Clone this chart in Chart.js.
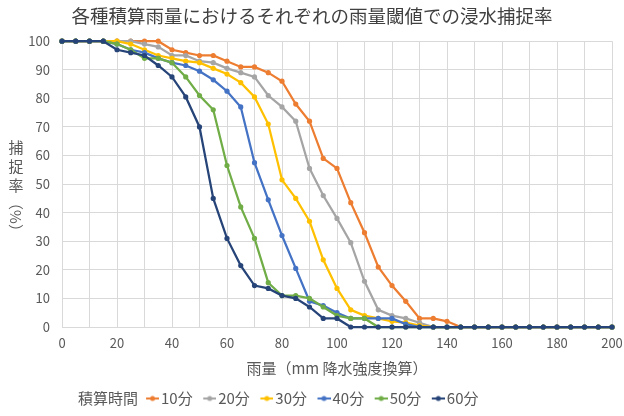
<!DOCTYPE html>
<html>
<head>
<meta charset="utf-8">
<script src="https://cdn.jsdelivr.net/npm/chart.js@4.4.1/dist/chart.umd.min.js"></script>
<style>
  html, body { margin: 0; padding: 0; background: #fff; }
  #wrap { width: 624px; height: 416px; }
</style>
</head>
<body>
<div id="wrap"><canvas id="chart"></canvas></div>
<script>
// ===== データ =====
const rainfall = [0, 5, 10, 15, 20, 25, 30, 35, 40, 45,
                  50, 55, 60, 65, 70, 75, 80, 85, 90, 95,
                  100, 105, 110, 115, 120, 125, 130, 135, 140, 145,
                  150, 155, 160, 165, 170, 175, 180, 185, 190, 195, 200];
const xTicks = [0, 20, 40, 60, 80, 100, 120, 140, 160, 180, 200];
const yTicks = [0, 10, 20, 30, 40, 50, 60, 70, 80, 90, 100];
const seriesNames = ['10分', '20分', '30分', '40分', '50分', '60分'];
const seriesColors = ['#ED7D31', '#A5A5A5', '#FFC000', '#4472C4', '#70AD47', '#264478'];

const capture10 = [100, 100, 100, 100, 100, 100, 100, 100, 97, 96,
                   95, 95, 93, 91, 91, 89, 86, 78, 72, 59,
                   55.5, 43.5, 33, 21, 14.5, 9, 3, 3, 2, 0,
                   0, 0, 0, 0, 0, 0, 0, 0, 0, 0, 0];
const capture20 = [100, 100, 100, 100, 100, 100, 99, 98, 95, 95,
                   93, 92.5, 90.5, 89, 87.5, 81, 77, 72, 55.5, 46,
                   38, 29.5, 16, 6, 4, 3, 1.5, 0, 0, 0,
                   0, 0, 0, 0, 0, 0, 0, 0, 0, 0, 0];
const capture30 = [100, 100, 100, 100, 100, 99, 97, 95, 94, 93,
                   92.5, 90.5, 88.5, 85.5, 80.5, 71, 51.5, 45, 37, 23.5,
                   13.5, 6, 4, 3, 2, 1.5, 0.5, 0, 0, 0,
                   0, 0, 0, 0, 0, 0, 0, 0, 0, 0, 0];
const capture40 = [100, 100, 100, 100, 99, 97, 96, 94, 92.5, 91.5,
                   89.5, 86.5, 82.5, 77, 57.5, 44.5, 32, 20.5, 9, 7.5,
                   5, 3, 3, 3, 3, 1, 0, 0, 0, 0,
                   0, 0, 0, 0, 0, 0, 0, 0, 0, 0, 0];
const capture50 = [100, 100, 100, 100, 99, 97, 94, 94, 92.5, 87.5,
                   81, 76, 56.5, 42, 31, 15.5, 11, 11, 10, 7,
                   4, 3, 3, 0, 0, 0, 0, 0, 0, 0,
                   0, 0, 0, 0, 0, 0, 0, 0, 0, 0, 0];
const capture60 = [100, 100, 100, 100, 97, 96, 95, 91.5, 87.5, 80.5,
                   70, 45, 31, 21.5, 14.5, 13.5, 11, 10, 7, 3,
                   3, 0, 0, 0, 0, 0, 0, 0, 0, 0,
                   0, 0, 0, 0, 0, 0, 0, 0, 0, 0, 0];
const allSeries = [capture10, capture20, capture30, capture40, capture50, capture60];

const FONT = "'Noto Sans CJK JP', 'Noto Sans', sans-serif";
const TEXT_COLOR = '#595959';
Chart.defaults.font.family = FONT;
Chart.defaults.color = TEXT_COLOR;

// 凡例マーカー（線＋点）
const LEGEND_BOX = 8;
function makeMarker(color) {
  const w = LEGEND_BOX + 11, h = 8;
  const cv = document.createElement('canvas');
  cv.width = w; cv.height = h;
  const c = cv.getContext('2d');
  c.strokeStyle = color; c.lineWidth = 2;
  c.beginPath(); c.moveTo(w - 13, h / 2); c.lineTo(w, h / 2); c.stroke();
  c.fillStyle = color;
  c.beginPath(); c.arc(w - 6.5, h / 2, 2.5, 0, Math.PI * 2); c.fill();
  return cv;
}
const markers = seriesColors.map(makeMarker);

const datasets = seriesNames.map((name, i) => ({
  label: name,
  data: rainfall.map((x, k) => ({ x: x, y: allSeries[i][k] })),
  borderColor: seriesColors[i],
  backgroundColor: seriesColors[i],
  borderWidth: 2.25,
  pointRadius: 2.6,
  pointBorderWidth: 0,
  pointBackgroundColor: seriesColors[i],
  tension: 0,
  clip: 5,
  order: seriesNames.length - i   // 60分が一番上
}));

// 縦書きの軸タイトルと凡例見出し
const extraText = {
  id: 'extraText',
  afterDraw(chart) {
    const ctx = chart.ctx;
    ctx.save();
    ctx.fillStyle = TEXT_COLOR;
    ctx.font = '15px ' + FONT;
    ctx.textAlign = 'center';
    ctx.textBaseline = 'middle';
    const cx = 16;
    ['捕', '捉', '率'].forEach((ch, i) => ctx.fillText(ch, cx, 147 + i * 19));
    ctx.translate(cx, 217);
    ctx.rotate(Math.PI / 2);
    ctx.fillText('（%）', 0, 0);
    ctx.restore();

    const lg = chart.legend;
    ctx.save();
    ctx.fillStyle = TEXT_COLOR;
    ctx.font = '15px ' + FONT;
    ctx.textAlign = 'left';
    ctx.textBaseline = 'middle';
    ctx.fillText('積算時間', 78, lg.top + 10 + 7.5);
    ctx.restore();
  }
};

new Chart(document.getElementById('chart'), {
  type: 'line',
  data: { datasets: datasets },
  plugins: [extraText],
  options: {
    responsive: true,
    maintainAspectRatio: false,
    animation: false,
    layout: { padding: 0 },
    plugins: {
      title: {
        display: true,
        text: '各種積算雨量におけるそれぞれの雨量閾値での浸水捕捉率',
        color: '#404040',
        font: { size: 18.5, weight: 'normal', family: FONT },
        padding: { top: 5, bottom: 14 }
      },
      legend: {
        position: 'bottom',
        align: 'center',
        labels: {
          usePointStyle: true,
          pointStyleWidth: LEGEND_BOX,
          padding: 10,
          color: TEXT_COLOR,
          font: { size: 15, family: FONT },
          sort: (a, b) => a.datasetIndex - b.datasetIndex,
          generateLabels(chart) {
            const items = Chart.defaults.plugins.legend.labels.generateLabels(chart);
            items.forEach(it => { it.pointStyle = markers[it.datasetIndex]; });
            return items;
          }
        }
      },
      tooltip: { enabled: false }
    },
    scales: {
      x: {
        type: 'linear',
        min: 0,
        max: 200,
        afterFit(scale) {
          scale.height = 54;
          scale.paddingRight = 12;
        },
        ticks: {
          stepSize: 10,
          autoSkip: false,
          maxRotation: 0,
          padding: 8,
          color: TEXT_COLOR,
          font: { size: 13 },
          callback: v => xTicks.includes(v) ? String(v) : ''
        },
        grid: { color: '#D9D9D9', drawTicks: false },
        border: { color: '#D9D9D9' },
        title: {
          display: true,
          text: '雨量（mm 降水強度換算）',
          color: TEXT_COLOR,
          font: { size: 15 },
          padding: { top: 0, bottom: 4 }
        }
      },
      y: {
        min: 0,
        max: 100,
        afterFit(scale) { scale.width = 62; },
        afterBuildTicks(scale) { scale.ticks = yTicks.map(v => ({ value: v })); },
        ticks: { padding: 12, color: TEXT_COLOR, font: { size: 13 } },
        grid: { color: '#D9D9D9', drawTicks: false },
        border: { display: false }
      }
    }
  }
});
</script>
</body>
</html>
